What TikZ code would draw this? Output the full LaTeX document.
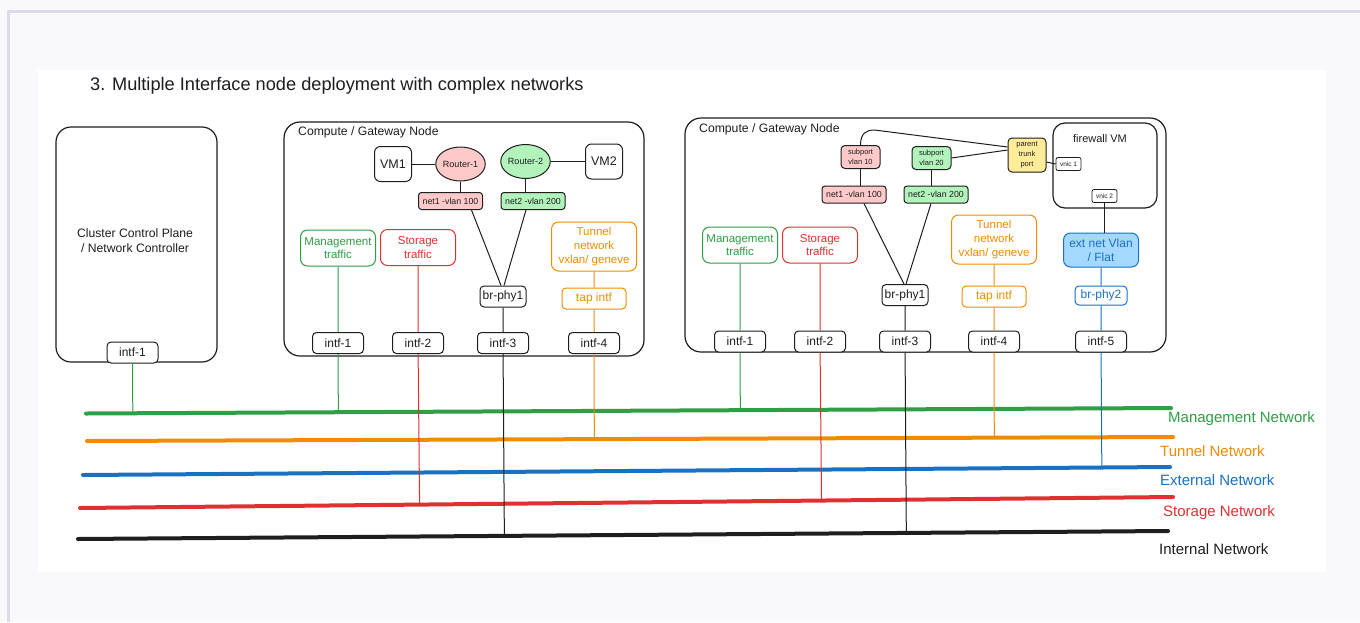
\documentclass[tikz,border=0pt]{standalone}
\usepackage{fontspec}
\setmainfont{Liberation Sans}
\usepackage{tikz}
\usetikzlibrary{calc, shapes.geometric}

\definecolor{ink}{HTML}{1E1E1E}
\definecolor{mgmt}{HTML}{2F9E44}
\definecolor{stor}{HTML}{E03131}
\definecolor{tunl}{HTML}{F08C00}
\definecolor{extn}{HTML}{1971C2}
\definecolor{pinkfill}{HTML}{FFC9C9}
\definecolor{greenfill}{HTML}{B2F2BB}
\definecolor{yellowfill}{HTML}{FFEC99}
\definecolor{bluefill}{HTML}{A5D8FF}
\definecolor{frame}{HTML}{DDDBEB}
\definecolor{outside}{HTML}{F9F9FB}

\newcommand{\fsz}[2]{\fontsize{#1}{#2}\selectfont}

\begin{document}
\begin{tikzpicture}[x=1pt, y=-1pt, line join=round,
    box/.style={draw=ink, line width=1pt, rounded corners=4pt, fill=white, inner sep=0pt, text=ink},
    intf/.style={box, minimum width=51pt, minimum height=21pt, font=\fsz{12}{14}},
    host/.style={draw=ink, line width=1.2pt, rounded corners=16pt, inner sep=0pt},
    vm/.style={box, minimum width=37pt, minimum height=35pt, rounded corners=6pt, font=\fsz{12.5}{14}},
    router/.style={ellipse, draw=ink, line width=1pt, minimum width=45pt, minimum height=34pt, inner sep=0pt, font=\fsz{9}{10}, text=ink},
    vlan/.style={box, minimum width=64pt, minimum height=17pt, rounded corners=3pt, font=\fsz{8.8}{10}},
    sub/.style={box, minimum width=39pt, minimum height=23pt, rounded corners=4pt, font=\fsz{7.5}{10}, align=center},
    traffic/.style={box, minimum width=75pt, minimum height=36pt, rounded corners=7pt, align=center, font=\fsz{11.5}{13.5}},
    tunnel/.style={traffic, draw=tunl, text=tunl, minimum width=85pt, minimum height=49pt, font=\fsz{11.5}{14.3}},
    vnic/.style={box, minimum width=25pt, minimum height=13pt, rounded corners=2pt, line width=0.8pt, font=\fsz{6.5}{7}},
    wire/.style={draw=ink, line width=1pt},
    drop/.style={line width=1pt},
    net/.style={line width=4pt, line cap=round},
    netlabel/.style={anchor=west, font=\fsz{15}{18}, inner sep=0pt}]

    \useasboundingbox (0,0) rectangle (1360,622);
    \fill[outside] (0,0) rectangle (1360,622);
    \draw[frame, line width=3pt] (8,622) -- (8,11) -- (1360,11);
    \fill[white] (38,70) rectangle (1326,572);

    \node[anchor=west, inner sep=0pt, text=ink, font=\fsz{18.2}{22}] (title) at (90,86) {3. Multiple Interface node deployment with complex networks};

    \node[host, rounded corners=15pt, minimum width=161pt, minimum height=235pt] (ctrl) at (136.5,244.5) {};
    \node[align=center, text=ink, font=\fsz{12.2}{15}] (ctrltext) at (135,240.5) {Cluster Control Plane\\ / Network Controller};
    \node[intf] (ctrlif) at (132.5,352.5) {intf-1};

    \node[host, minimum width=360pt, minimum height=234pt] (cg1) at (464,239) {};
    \node[anchor=west, inner sep=0pt, text=ink, font=\fsz{12.2}{14}] (cg1lbl) at (298,132) {Compute / Gateway Node};
    \node[vm] (vm1) at (393,164) {VM1};
    \node[router, fill=pinkfill] (rtr1) at (460.5,164) {Router-1};
    \node[router, fill=greenfill] (rtr2) at (525.5,161.5) {Router-2};
    \node[vm] (vm2) at (604,161.5) {VM2};
    \node[vlan, fill=pinkfill] (net1a) at (450.5,201) {net1 -vlan 100};
    \node[vlan, fill=greenfill] (net2a) at (533,201) {net2 -vlan 200};
    \node[traffic, draw=mgmt, text=mgmt] (mgt1) at (338,248) {Management\\traffic};
    \node[traffic, draw=stor, text=stor] (sto1) at (418,247.5) {Storage\\traffic};
    \node[tunnel] (tun1) at (594,246.5) {Tunnel\\network\\vxlan/ geneve};
    \node[intf, minimum width=46pt] (brp1a) at (503,296.5) {br-phy1};
    \node[intf, minimum width=64pt, draw=tunl, text=tunl] (tap1) at (594,298.5) {tap intf};
    \node[intf] (if1a) at (338,343) {intf-1};
    \node[intf] (if2a) at (418,343) {intf-2};
    \node[intf] (if3a) at (503,343) {intf-3};
    \node[intf] (if4a) at (594,343) {intf-4};

    \node[host, minimum width=481pt, minimum height=234pt] (cg2) at (925.5,235) {};
    \node[anchor=west, inner sep=0pt, text=ink, font=\fsz{12.2}{14}] (cg2lbl) at (699,129) {Compute / Gateway Node};
    \node[sub, fill=pinkfill] (sub10) at (860.5,157) {subport\\vlan 10};
    \node[sub, fill=greenfill] (sub20) at (931.5,158) {subport\\vlan 20};
    \node[sub, fill=yellowfill, minimum width=38pt, minimum height=34pt] (trunk) at (1027,155) {parent\\trunk\\port};
    \node[host, rounded corners=12pt, minimum width=104pt, minimum height=85pt] (fw) at (1105,165.5) {};
    \node[text=ink, font=\fsz{11}{12}] (fwlbl) at (1100,139) {firewall VM};
    \node[vnic] (vn1) at (1068.5,164) {vnic 1};
    \node[vnic] (vn2) at (1104.5,196) {vnic 2};
    \node[vlan, fill=pinkfill] (net1b) at (854,194.5) {net1 -vlan 100};
    \node[vlan, fill=greenfill] (net2b) at (936,194.5) {net2 -vlan 200};
    \node[traffic, draw=mgmt, text=mgmt] (mgt2) at (740,245) {Management\\traffic};
    \node[traffic, draw=stor, text=stor] (sto2) at (820,245) {Storage\\traffic};
    \node[tunnel] (tun2) at (994,239.5) {Tunnel\\network\\vxlan/ geneve};
    \node[traffic, draw=extn, fill=bluefill, text=extn, minimum height=34pt, font=\fsz{12}{14}] (ext) at (1101,250) {ext net Vlan\\/ Flat};
    \node[intf, minimum width=46pt] (brp1b) at (905,295) {br-phy1};
    \node[intf, minimum width=64pt, draw=tunl, text=tunl] (tap2) at (994,296.5) {tap intf};
    \node[intf, minimum width=52pt, minimum height=19pt, draw=extn, text=extn] (brp2) at (1101,295.5) {br-phy2};
    \node[intf] (if1b) at (740,341.5) {intf-1};
    \node[intf] (if2b) at (820,341.5) {intf-2};
    \node[intf] (if3b) at (905,341.5) {intf-3};
    \node[intf] (if4b) at (994,341.5) {intf-4};
    \node[intf] (if5b) at (1101,341.5) {intf-5};

    \draw[wire] (vm1) -- (rtr1) (rtr2) -- (vm2);
    \draw[wire] (rtr1.south) -- (rtr1.south |- net1a.north);
    \draw[wire] (rtr2.south) -- (rtr2.south |- net2a.north);
    \draw[wire] ($(net1a.south)+(21,0)$) -- ($(brp1a.north)+(-2,0)$);
    \draw[wire] ($(net2a.south)+(-7,0)$) -- ($(brp1a.north)+(1,0)$);

    \draw[wire] (sub10.north) .. controls +(0,-12) and +(-8,0) .. ($(sub10.north)+(14,-15)$) -- ($(trunk.west)+(0,-8)$);
    \draw[wire] (sub20.east) -- ($(trunk.west)+(0,-5)$);
    \draw[wire] ($(trunk.east)+(0,7)$) -- (vn1.west);
    \draw[wire] (sub10.south) -- (sub10.south |- net1b.north);
    \draw[wire] (sub20.south) -- (sub20.south |- net2b.north);
    \draw[wire] ($(net1b.south)+(10,0)$) -- ($(brp1b.north)+(-1,0)$);
    \draw[wire] ($(net2b.south)+(-5,0)$) -- ($(brp1b.north)+(1,0)$);
    \draw[wire] (vn2.south) -- (vn2.south |- ext.north);

    \coordinate (mgA) at (86,413.5);  \coordinate (mgB) at (1171,408);
    \coordinate (tnA) at (87,441);    \coordinate (tnB) at (1173,437);
    \coordinate (exA) at (83,475);    \coordinate (exB) at (1170,467);
    \coordinate (stA) at (80,508);    \coordinate (stB) at (1173,497);
    \coordinate (inA) at (78,539);    \coordinate (inB) at (1168,531);
    \draw[net, mgmt] (mgA) -- (mgB);
    \draw[net, tunl] (tnA) -- (tnB);
    \draw[net, extn] (exA) -- (exB);
    \draw[net, stor] (stA) -- (stB);
    \draw[net, ink] (inA) -- (inB);
    \node[netlabel, text=mgmt] (mglbl) at (1168,419) {Management Network};
    \node[netlabel, text=tunl] (tnlbl) at (1160,451) {Tunnel Network};
    \node[netlabel, text=extn] (exlbl) at (1160,480) {External Network};
    \node[netlabel, text=stor] (stlbl) at (1163,513) {Storage Network};
    \node[netlabel, text=ink] (inlbl) at (1159,549) {Internal Network};

    \draw[drop, mgmt] (ctrlif) -- ($(mgA)!(ctrlif)!(mgB)$);
    \draw[drop, mgmt] (mgt1) -- (if1a) -- ($(mgA)!(if1a)!(mgB)$);
    \draw[drop, stor] (sto1) -- (if2a) -- ($(stA)!(if2a)!(stB)$);
    \draw[drop, ink] (brp1a) -- (if3a) -- ($(inA)!(if3a)!(inB)$);
    \draw[drop, tunl] (tun1) -- (tap1) -- (if4a) -- ($(tnA)!(if4a)!(tnB)$);
    \draw[drop, mgmt] (mgt2) -- (if1b) -- ($(mgA)!(if1b)!(mgB)$);
    \draw[drop, stor] (sto2) -- (if2b) -- ($(stA)!(if2b)!(stB)$);
    \draw[drop, ink] (brp1b) -- (if3b) -- ($(inA)!(if3b)!(inB)$);
    \draw[drop, tunl] (tun2) -- (tap2) -- (if4b) -- ($(tnA)!(if4b)!(tnB)$);
    \draw[drop, extn] (ext) -- (brp2) -- (if5b) -- ($(exA)!(if5b)!(exB)$);
\end{tikzpicture}
\end{document}
